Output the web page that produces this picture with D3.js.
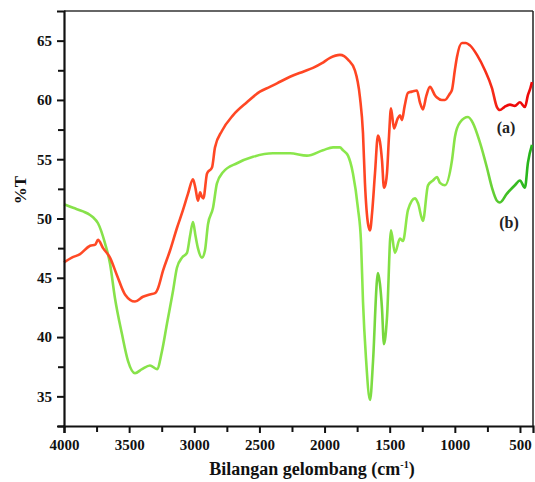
<!DOCTYPE html>
<html><head><meta charset="utf-8">
<script src="https://cdn.jsdelivr.net/npm/d3@7"></script>
<style>body{margin:0;background:#fff}svg{display:block}</style>
</head><body>
<svg id="c" width="535" height="482"></svg>
<script>
const wnA=[4000,3940,3877,3800,3760,3739,3700,3647,3593,3532,3455,3394,3340,3302,3279,3240,3186,3133,3087,3048,3010,2990,2972,2955,2941,2930,2902,2864,2841,2787,2703,2596,2496,2420,2365,2265,2160,2089,2020,1958,1882,1850,1820,1767,1728,1705,1690,1667,1651,1635,1613,1590,1575,1559,1544,1530,1521,1505,1490,1467,1440,1421,1406,1385,1360,1330,1291,1268,1245,1220,1191,1153,1137,1100,1076,1040,1022,1000,984,945,915,884,830,769,715,677,654,620,577,540,500,462,439,420,408];
const tA=[46.3,46.7,47.0,47.7,47.8,48.2,47.5,46.7,45.2,43.6,43.0,43.4,43.6,43.7,44.1,45.6,47.3,49.2,50.7,52.1,53.3,52.5,51.5,52.2,51.8,51.7,53.8,54.3,56.0,57.4,58.7,59.8,60.7,61.1,61.4,61.95,62.4,62.7,63.1,63.55,63.8,63.7,63.4,62.5,60.2,57.2,53.0,49.6,49.0,50.5,53.8,57.0,56.5,54.9,52.6,53.0,53.8,57.0,59.3,57.6,58.4,58.7,58.3,59.5,60.6,60.7,60.8,59.8,59.2,60.3,61.1,60.4,60.2,60.0,60.0,60.5,60.85,62.5,63.6,64.8,64.8,64.6,63.8,62.5,61.0,59.4,59.15,59.4,59.6,59.5,59.8,59.4,60.4,61.0,61.5];
const wnB=[4000,3930,3854,3800,3777,3739,3685,3647,3609,3555,3509,3455,3401,3340,3286,3248,3210,3163,3133,3094,3056,3033,3010,2990,2972,2941,2918,2895,2856,2826,2780,2672,2549,2396,2265,2135,2012,1935,1882,1859,1820,1782,1744,1720,1705,1682,1651,1628,1598,1590,1575,1559,1544,1521,1490,1460,1421,1398,1360,1306,1283,1245,1206,1168,1137,1114,1076,1022,999,961,899,861,807,754,715,677,654,600,539,500,462,439,408];
const tB=[51.2,50.9,50.6,50.3,50.1,49.6,47.9,46.2,43.3,40.25,38.0,36.95,37.3,37.6,37.3,38.8,41.1,43.9,45.85,46.7,47.1,48.5,49.7,48.5,47.5,46.7,47.3,49.5,50.9,52.96,53.9,54.66,55.2,55.5,55.5,55.3,55.76,56.0,56.0,55.76,55.3,53.8,50.9,48.0,43.0,38.2,34.7,37.96,44.75,45.4,44.5,42.4,39.4,41.6,49.0,47.1,48.3,48.1,50.7,51.7,51.3,49.8,52.8,53.2,53.5,53.0,52.8,54.9,56.9,58.1,58.56,58.05,56.4,54.3,52.6,51.5,51.35,52.1,52.8,53.2,52.6,54.7,56.2];
const xTicks=[4000,3500,3000,2500,2000,1500,1000,500];
const xMinor=[3750,3250,2750,2250,1750,1250,750];
const yTicks=[35,40,45,50,55,60,65];
const yMinor=[32.5,37.5,42.5,47.5,52.5,57.5,62.5];
const seriesLabels=["(a)","(b)"];

const svg=d3.select("#c");
const L=64,R=533,T=11,B=426;
const x=d3.scaleLinear().domain([4000,400]).range([L,R]);
const y=d3.scaleLinear().domain([32.5,67.5]).range([B,T]);
const font="'Liberation Serif','Times New Roman',serif";

// gradients
const defs=svg.append("defs");
function grad(id,stops){
  const g=defs.append("linearGradient").attr("id",id).attr("gradientUnits","userSpaceOnUse")
    .attr("x1",L).attr("x2",R).attr("y1",0).attr("y2",0);
  stops.forEach(s=>g.append("stop").attr("offset",(x(s[0])-L)/(R-L)).attr("stop-color",s[1]));
}
grad("gA",[[4000,"#ff4a26"],[1000,"#ff4422"],[700,"#f52a18"],[620,"#ee0808"],[400,"#ee0a0a"]]);
grad("gB",[[4000,"#86e04a"],[1700,"#8be84c"],[1580,"#70d23a"],[1450,"#8ee84a"],[800,"#86e046"],[620,"#44c026"],[400,"#22b41a"]]);

// frame
svg.append("line").attr("x1",L).attr("x2",R).attr("y1",T).attr("y2",T).attr("stroke","#333").attr("stroke-width",1.5);
svg.append("line").attr("x1",R).attr("x2",R).attr("y1",T).attr("y2",B).attr("stroke","#222").attr("stroke-width",1.5);

const line=d3.line().curve(d3.curveMonotoneX);
const dA=wnA.map((w,i)=>[x(w),y(tA[i])]);
const dB=wnB.map((w,i)=>[x(w),y(tB[i])]);
svg.append("path").attr("d",line(dB)).attr("fill","none").attr("stroke","url(#gB)").attr("stroke-width",2.6).attr("stroke-linejoin","round");
svg.append("path").attr("d",line(dA)).attr("fill","none").attr("stroke","url(#gA)").attr("stroke-width",2.6).attr("stroke-linejoin","round");

// axes
const xAx=svg.append("g").attr("transform",`translate(0,${B})`)
  .call(d3.axisBottom(x).tickValues(xTicks).tickSize(7).tickPadding(6).tickFormat(d3.format("d")));
svg.append("g").attr("transform",`translate(0,${B})`)
  .call(d3.axisBottom(x).tickValues(xMinor).tickSize(6).tickFormat(""))
  .call(g=>g.select(".domain").remove());
const yAx=svg.append("g").attr("transform",`translate(${L},0)`)
  .call(d3.axisLeft(y).tickValues(yTicks).tickSize(7).tickPadding(5));
svg.append("g").attr("transform",`translate(${L},0)`)
  .call(d3.axisLeft(y).tickValues(yMinor).tickSize(6).tickFormat(""))
  .call(g=>g.select(".domain").remove());
svg.selectAll(".domain").attr("stroke","#111").attr("stroke-width",2.2);
svg.selectAll(".tick line").attr("stroke","#111").attr("stroke-width",2);
svg.selectAll(".tick text").attr("font-family",font).attr("font-weight","bold").attr("font-size",15).attr("fill","#111");

// labels
svg.append("text").attr("transform","translate(26,190) rotate(-90)").attr("text-anchor","middle")
  .attr("font-family",font).attr("font-weight","bold").attr("font-size",17).attr("fill","#111").text("%T");
const xl=svg.append("text").attr("x",312).attr("y",475).attr("text-anchor","middle")
  .attr("font-family",font).attr("font-weight","bold").attr("font-size",18).attr("fill","#111");
xl.append("tspan").text("Bilangan gelombang (cm");
xl.append("tspan").attr("dy",-7).attr("font-size",10).text("-1");
xl.append("tspan").attr("dy",7).text(")");

svg.append("text").attr("x",506).attr("y",133).attr("text-anchor","middle").attr("font-family",font).attr("font-weight","bold").attr("font-size",16).attr("fill","#222").text(seriesLabels[0]);
svg.append("text").attr("x",509).attr("y",228).attr("text-anchor","middle").attr("font-family",font).attr("font-weight","bold").attr("font-size",16).attr("fill","#222").text(seriesLabels[1]);
</script>
</body></html>
